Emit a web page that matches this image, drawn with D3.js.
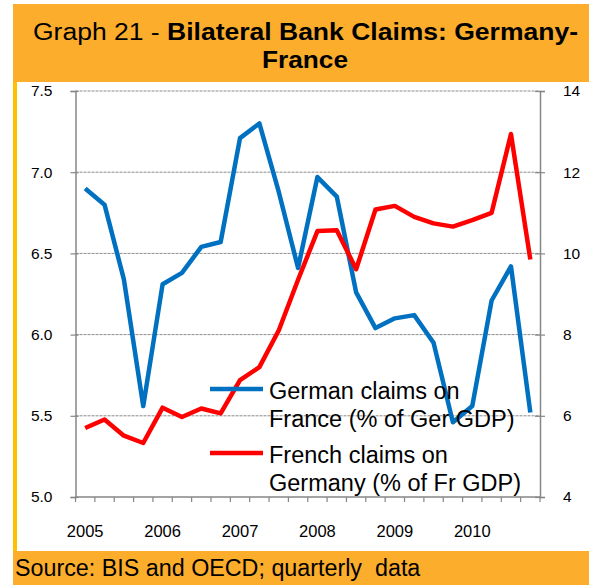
<!DOCTYPE html>
<html>
<head>
<meta charset="utf-8">
<script src="https://cdn.jsdelivr.net/npm/d3@7"></script>
<style>
  body { margin: 0; background: #fff; }
  text { font-family: "Liberation Sans", Arial, sans-serif; }
</style>
</head>
<body>
<div id="chart"></div>
<script>
"use strict";
// quarterly categories, 2005Q1 .. 2010Q4
const quarters = [
  "2005Q1", "2005Q2", "2005Q3", "2005Q4",
  "2006Q1", "2006Q2", "2006Q3", "2006Q4",
  "2007Q1", "2007Q2", "2007Q3", "2007Q4",
  "2008Q1", "2008Q2", "2008Q3", "2008Q4",
  "2009Q1", "2009Q2", "2009Q3", "2009Q4",
  "2010Q1", "2010Q2", "2010Q3", "2010Q4"
];
const yearLabels = ["2005", "2006", "2007", "2008", "2009", "2010"];
// German claims on France (% of Ger GDP) - left axis
const germanClaims = [6.90, 6.80, 6.34, 5.56, 6.31, 6.38, 6.54, 6.57, 7.21, 7.30, 6.88, 6.41,
  6.97, 6.85, 6.26, 6.04, 6.10, 6.12, 5.95, 5.46, 5.56, 6.21, 6.42, 5.52];
// French claims on Germany (% of Fr GDP) - right axis
const frenchClaims = [5.70, 5.91, 5.51, 5.33, 6.20, 5.97, 6.18, 6.06, 6.88, 7.20, 8.10, 9.35,
  10.55, 10.57, 9.61, 11.08, 11.17, 10.90, 10.74, 10.66, 10.82, 11.00, 12.94, 9.85];
const leftTicks = [5.0, 5.5, 6.0, 6.5, 7.0, 7.5];
const rightTicks = [4, 6, 8, 10, 12, 14];

const width = 589;
const height = 585;
const orange = "#FBAD2B";
const plot = { left: 75.5, right: 540, top: 91, bottom: 497 };

const svg = d3.select("#chart")
    .append("svg")
    .attr("width", width)
    .attr("height", height);

// frame: orange header and footer, white panel, yellow left rule
svg.append("rect").attr("x", 13).attr("y", 4).attr("width", width - 13).attr("height", 78).attr("fill", orange);
svg.append("rect").attr("x", 13).attr("y", 551).attr("width", width - 13).attr("height", height - 551).attr("fill", orange);
svg.append("rect").attr("x", 13).attr("y", 82).attr("width", 4).attr("height", 469).attr("fill", "#FFC000");

// title is a bit wider than the font's natural width, stretch it
const title = svg.append("text")
    .attr("x", 33)
    .attr("y", 40)
    .attr("textLength", 545)
    .attr("lengthAdjust", "spacingAndGlyphs")
    .style("font-size", "23.5px")
    .attr("fill", "#000");
title.append("tspan").text("Graph 21 - ");
title.append("tspan").style("font-weight", "bold").text("Bilateral Bank Claims: Germany-");
svg.append("text")
    .attr("x", 262)
    .attr("y", 68)
    .attr("textLength", 86)
    .attr("lengthAdjust", "spacingAndGlyphs")
    .style("font-size", "23.5px")
    .style("font-weight", "bold")
    .text("France");

svg.append("text")
    .attr("x", 15)
    .attr("y", 576)
    .style("font-size", "23.3px")
    .attr("xml:space", "preserve")
    .style("white-space", "pre")
    .text("Source: BIS and OECD; quarterly  data");

const x = d3.scaleBand()
    .domain(quarters)
    .range([plot.left, plot.right])
    .padding(0);
const yLeft = d3.scaleLinear()
    .domain([5, 7.5])
    .range([plot.bottom, plot.top]);
const yRight = d3.scaleLinear()
    .domain([4, 14])
    .range([plot.bottom, plot.top]);

const axisColor = "#868686";

// dashed gridlines
svg.append("g")
    .selectAll("line")
    .data(leftTicks.slice(1))
    .enter()
    .append("line")
    .attr("x1", plot.left)
    .attr("x2", plot.right)
    .attr("y1", d => yLeft(d))
    .attr("y2", d => yLeft(d))
    .attr("stroke", "#8c8c8c")
    .attr("stroke-width", 1)
    .attr("stroke-dasharray", "3,1");

// left axis
const leftAxis = svg.append("g")
    .attr("transform", `translate(${plot.left},0)`)
    .call(d3.axisLeft(yLeft).tickValues(leftTicks).tickFormat(d3.format(".1f")).tickSize(5).tickPadding(18));
// right axis
const rightAxis = svg.append("g")
    .attr("transform", `translate(${plot.right},0)`)
    .call(d3.axisRight(yRight).tickValues(rightTicks).tickSize(5).tickPadding(18));
[leftAxis, rightAxis].forEach(a => {
    a.select(".domain").attr("stroke", axisColor).attr("stroke-width", 1.5);
    a.selectAll(".tick line").attr("stroke", axisColor).attr("stroke-width", 1.2);
    a.selectAll(".tick text").attr("fill", "#000").style("font-size", "15.5px").style("font-family", "'Liberation Sans', Arial, sans-serif");
});
// small inner part of the crossing tick marks
leftAxis.selectAll(".tick").append("line").attr("x2", 3).attr("stroke", axisColor).attr("stroke-width", 1.2);
rightAxis.selectAll(".tick").append("line").attr("x2", -5).attr("stroke", axisColor).attr("stroke-width", 1.2);

// bottom axis: ticks at category boundaries, labels on first quarter of each year
const bottom = svg.append("g");
bottom.append("line")
    .attr("x1", plot.left).attr("x2", plot.right)
    .attr("y1", plot.bottom).attr("y2", plot.bottom)
    .attr("stroke", axisColor).attr("stroke-width", 1.5);
const boundaries = quarters.map(q => x(q)).concat([x(quarters[quarters.length - 1]) + x.bandwidth()]);
bottom.selectAll(".qtick")
    .data(boundaries)
    .enter()
    .append("line")
    .attr("class", "qtick")
    .attr("x1", d => d).attr("x2", d => d)
    .attr("y1", plot.bottom).attr("y2", plot.bottom + 5)
    .attr("stroke", axisColor).attr("stroke-width", 1.2);
bottom.selectAll(".ylabel")
    .data(yearLabels)
    .enter()
    .append("text")
    .attr("class", "ylabel")
    .attr("x", d => x(d + "Q1") + x.bandwidth() / 2)
    .attr("y", 537)
    .attr("text-anchor", "middle")
    .style("font-size", "16.5px")
    .text(d => d);

const cx = (d, i) => x(quarters[i]) + x.bandwidth() / 2;
const germanLine = d3.line().x(cx).y(d => yLeft(d));
const frenchLine = d3.line().x(cx).y(d => yRight(d));

svg.append("path")
    .datum(germanClaims)
    .attr("d", germanLine)
    .attr("fill", "none")
    .attr("stroke", "#0070C0")
    .attr("stroke-width", 4.5)
    .attr("stroke-linejoin", "round");
svg.append("path")
    .datum(frenchClaims)
    .attr("d", frenchLine)
    .attr("fill", "none")
    .attr("stroke", "#FF0000")
    .attr("stroke-width", 4.5)
    .attr("stroke-linejoin", "round");

// legend
const legendItems = [
    { color: "#0070C0", lines: ["German claims on", "France (% of Ger GDP)"], y: 389 },
    { color: "#FF0000", lines: ["French claims on", "Germany (% of Fr GDP)"], y: 453 }
];
const legend = svg.append("g")
    .selectAll("g")
    .data(legendItems)
    .enter()
    .append("g");
legend.append("line")
    .attr("x1", 210).attr("x2", 263)
    .attr("y1", d => d.y).attr("y2", d => d.y)
    .attr("stroke", d => d.color)
    .attr("stroke-width", 4.5);
legend.append("text")
    .style("font-size", "23.5px")
    .selectAll("tspan")
    .data(d => d.lines.map((t, i) => ({ t, y: d.y + 10 + i * 27.5 })))
    .enter()
    .append("tspan")
    .attr("x", 269)
    .attr("y", d => d.y)
    .text(d => d.t);
</script>
</body>
</html>
